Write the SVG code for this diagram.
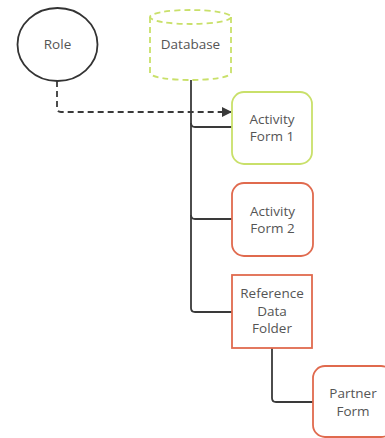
<svg xmlns="http://www.w3.org/2000/svg" width="385" height="438" viewBox="0 0 385 438">
<defs>
<style>
.t{font-family:"Open Sans","Noto Sans",sans-serif;font-size:13.5px;fill:#555;text-anchor:middle}
.ln{fill:none;stroke:#3a3a3a;stroke-width:1.8}
.grn{fill:#fff;stroke:#c9e06a;stroke-width:1.8}
.org{fill:#fff;stroke:#e06a4e;stroke-width:1.8}
</style>
<marker id="ah" markerWidth="10" markerHeight="10" refX="9" refY="5" orient="auto" markerUnits="userSpaceOnUse">
<path d="M0,0 L10,5 L0,10 Z" fill="#3a3a3a"/>
</marker>
</defs>
<rect width="385" height="438" fill="#fff"/>
<g id="connectors">
<path class="ln" d="M57,81 V108 Q57,112 61,112 H231" stroke-dasharray="6,4" marker-end="url(#ah)"/>
<path class="ln" d="M191,80 V308 Q191,312 195,312 H232"/>
<path class="ln" d="M191,123 Q191,127 195,127 H232"/>
<path class="ln" d="M191,215 Q191,219 195,219 H232"/>
<path class="ln" d="M272,348 V398 Q272,402 276,402 H313"/>
</g>
<g id="role">
<ellipse cx="57.5" cy="44.5" rx="40" ry="36.5" fill="#fff" stroke="#333" stroke-width="1.8"/>
<text class="t" x="57.5" y="49">Role</text>
</g>
<g id="database">
<path d="M150,17 V73 A40.5,7 0 0 0 231,73 V17" fill="#fff" stroke="#c9e06a" stroke-width="1.8" stroke-dasharray="6,4"/>
<ellipse cx="190.5" cy="17" rx="40.5" ry="7" fill="#fff" stroke="#c9e06a" stroke-width="1.8" stroke-dasharray="6,4"/>
<text class="t" x="190.5" y="49">Database</text>
</g>
<g id="activity-form-1">
<rect class="grn" x="232" y="92" width="80" height="72" rx="12"/>
<text class="t" x="272" y="124">Activity</text>
<text class="t" x="272" y="141">Form 1</text>
</g>
<g id="activity-form-2">
<rect class="org" x="232" y="183" width="81" height="73" rx="12"/>
<text class="t" x="272.5" y="216">Activity</text>
<text class="t" x="272.5" y="233">Form 2</text>
</g>
<g id="reference-data-folder">
<rect class="org" x="232" y="275" width="80" height="73"/>
<text class="t" x="272" y="298">Reference</text>
<text class="t" x="272" y="316">Data</text>
<text class="t" x="272" y="333">Folder</text>
</g>
<g id="partner-form">
<rect class="org" x="313" y="366" width="80" height="71" rx="12"/>
<text class="t" x="353" y="398">Partner</text>
<text class="t" x="353" y="416">Form</text>
</g>
</svg>
